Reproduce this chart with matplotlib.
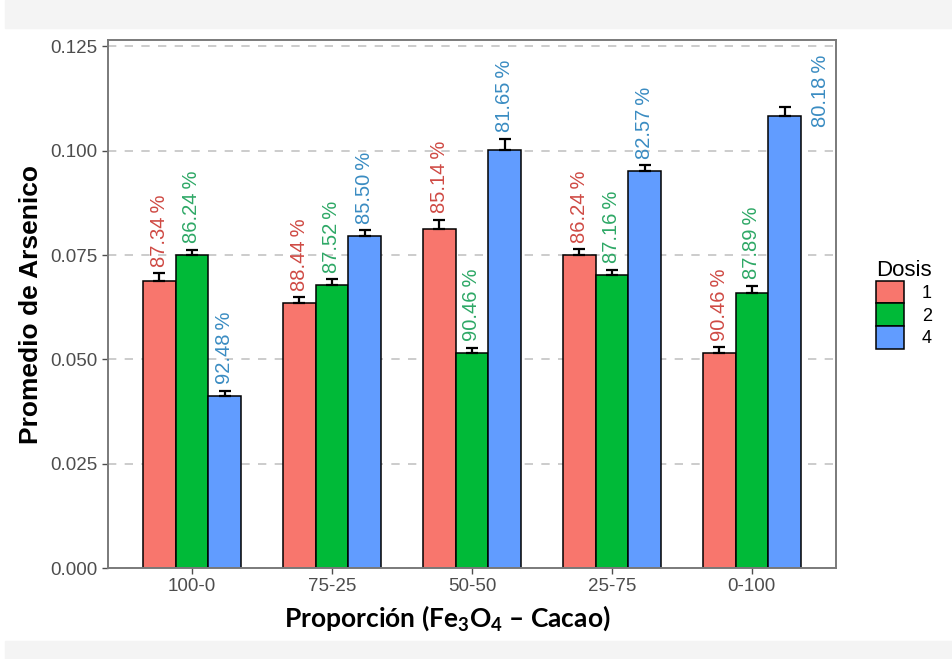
import matplotlib.pyplot as plt
import matplotlib.patches as mpatches
import numpy as np

plt.rcParams['font.family'] = ['Liberation Sans', 'DejaVu Sans']
plt.rcParams['mathtext.fontset'] = 'custom'
plt.rcParams['mathtext.rm'] = 'Lato'
plt.rcParams['mathtext.bf'] = 'Lato:bold'
plt.rcParams['mathtext.default'] = 'bf'

proporciones = ['100-0', '75-25', '50-50', '25-75', '0-100']
dosis = ['1', '2', '4']

# promedio de arsenico por dosis
media_d1 = [0.0687, 0.0635, 0.0812, 0.0750, 0.0515]
media_d2 = [0.0750, 0.0678, 0.0515, 0.0702, 0.0659]
media_d4 = [0.0412, 0.0795, 0.1003, 0.0951, 0.1083]

err_d1 = [0.0019, 0.0014, 0.0022, 0.0014, 0.0014]
err_d2 = [0.0013, 0.0014, 0.0012, 0.0012, 0.0017]
err_d4 = [0.0012, 0.0014, 0.0026, 0.0014, 0.0021]

# porcentaje de remocion
rem_d1 = ['87.34\u2009%', '88.44\u2009%', '85.14\u2009%', '86.24\u2009%', '90.46\u2009%']
rem_d2 = ['86.24\u2009%', '87.52\u2009%', '90.46\u2009%', '87.16\u2009%', '87.89\u2009%']
rem_d4 = ['92.48\u2009%', '85.50\u2009%', '81.65\u2009%', '82.57\u2009%', '80.18\u2009%']

medias = [media_d1, media_d2, media_d4]
errores = [err_d1, err_d2, err_d4]
etiquetas = [rem_d1, rem_d2, rem_d4]
colores = ['#F8766D', '#00BA38', '#619CFF']
col_texto = ['#cf4a44', '#2ea866', '#3a8cc2']

fig = plt.figure(figsize=(9.52, 6.59), dpi=100)
# franjas grises arriba y abajo
fig.patches.append(mpatches.Rectangle((0.005, 0.958), 0.995, 0.042, transform=fig.transFigure,
                                      color='#f4f4f4', zorder=-5))
fig.patches.append(mpatches.Rectangle((0.005, 0.0), 0.995, 0.028, transform=fig.transFigure,
                                      color='#f4f4f4', zorder=-5))
ax = fig.add_axes([0.1134, 0.138, 0.7646, 0.801])

x = np.arange(len(proporciones))
ancho = 0.7 / 3
for i in range(3):
    pos = x + (i - 1) * ancho
    ax.bar(pos, medias[i], width=ancho, color=colores[i], edgecolor='black', linewidth=1.1,
           label=dosis[i], zorder=2)
    ax.errorbar(pos, medias[i], yerr=[np.zeros(5), errores[i]], fmt='none', ecolor='black',
                elinewidth=1.6, capsize=4.3, capthick=1.6, zorder=3)
    for j in range(5):
        tope = medias[i][j] + errores[i][j]
        if i == 2 and j == 4:
            # la ultima etiqueta va a un lado de la barra
            ax.text(pos[j] + 0.26, 0.1058, etiquetas[i][j], rotation=90, ha='center', va='bottom',
                    color=col_texto[i], fontsize=14.5)
        else:
            ax.text(pos[j], tope + 0.0016, etiquetas[i][j], rotation=90, ha='center', va='bottom',
                    color=col_texto[i], fontsize=14.5)

ax.set_xlim(-0.6, 4.6)
ax.set_ylim(0, 0.1265)
ax.set_xticks(x)
ax.set_xticklabels(proporciones)
ax.set_yticks(np.arange(0, 0.126, 0.025))
ax.set_yticklabels(['%.3f' % v for v in np.arange(0, 0.126, 0.025)])
ax.tick_params(colors='#4d4d4d', labelsize=13.5, length=4, width=1)
ax.yaxis.grid(True, linestyle=(0, (5, 5)), color='#c4c4c4', linewidth=1.2, zorder=0)
ax.set_axisbelow(True)
for s in ax.spines.values():
    s.set_color('#7a7a7a')
    s.set_linewidth(1.4)

ax.set_ylabel('Promedio de Arsenico', fontsize=19, fontweight='bold')
ax.yaxis.set_label_coords(-0.089, 0.5)
ax.set_xlabel('Proporción (Fe$_3$O$_4$ – Cacao)', fontsize=19, fontweight='bold',
              family=['Lato', 'DejaVu Sans'])
ax.xaxis.set_label_coords(0.466, -0.068)

leg = ax.legend(title='Dosis', loc='center left', bbox_to_anchor=(1.045, 0.5), frameon=False,
                fontsize=13, title_fontsize=16, handlelength=1.55, handleheight=1.55,
                labelspacing=0.0, handletextpad=1.0, borderaxespad=0.0)
leg._legend_box.align = 'left'

fig.savefig('out.png', dpi=100)
